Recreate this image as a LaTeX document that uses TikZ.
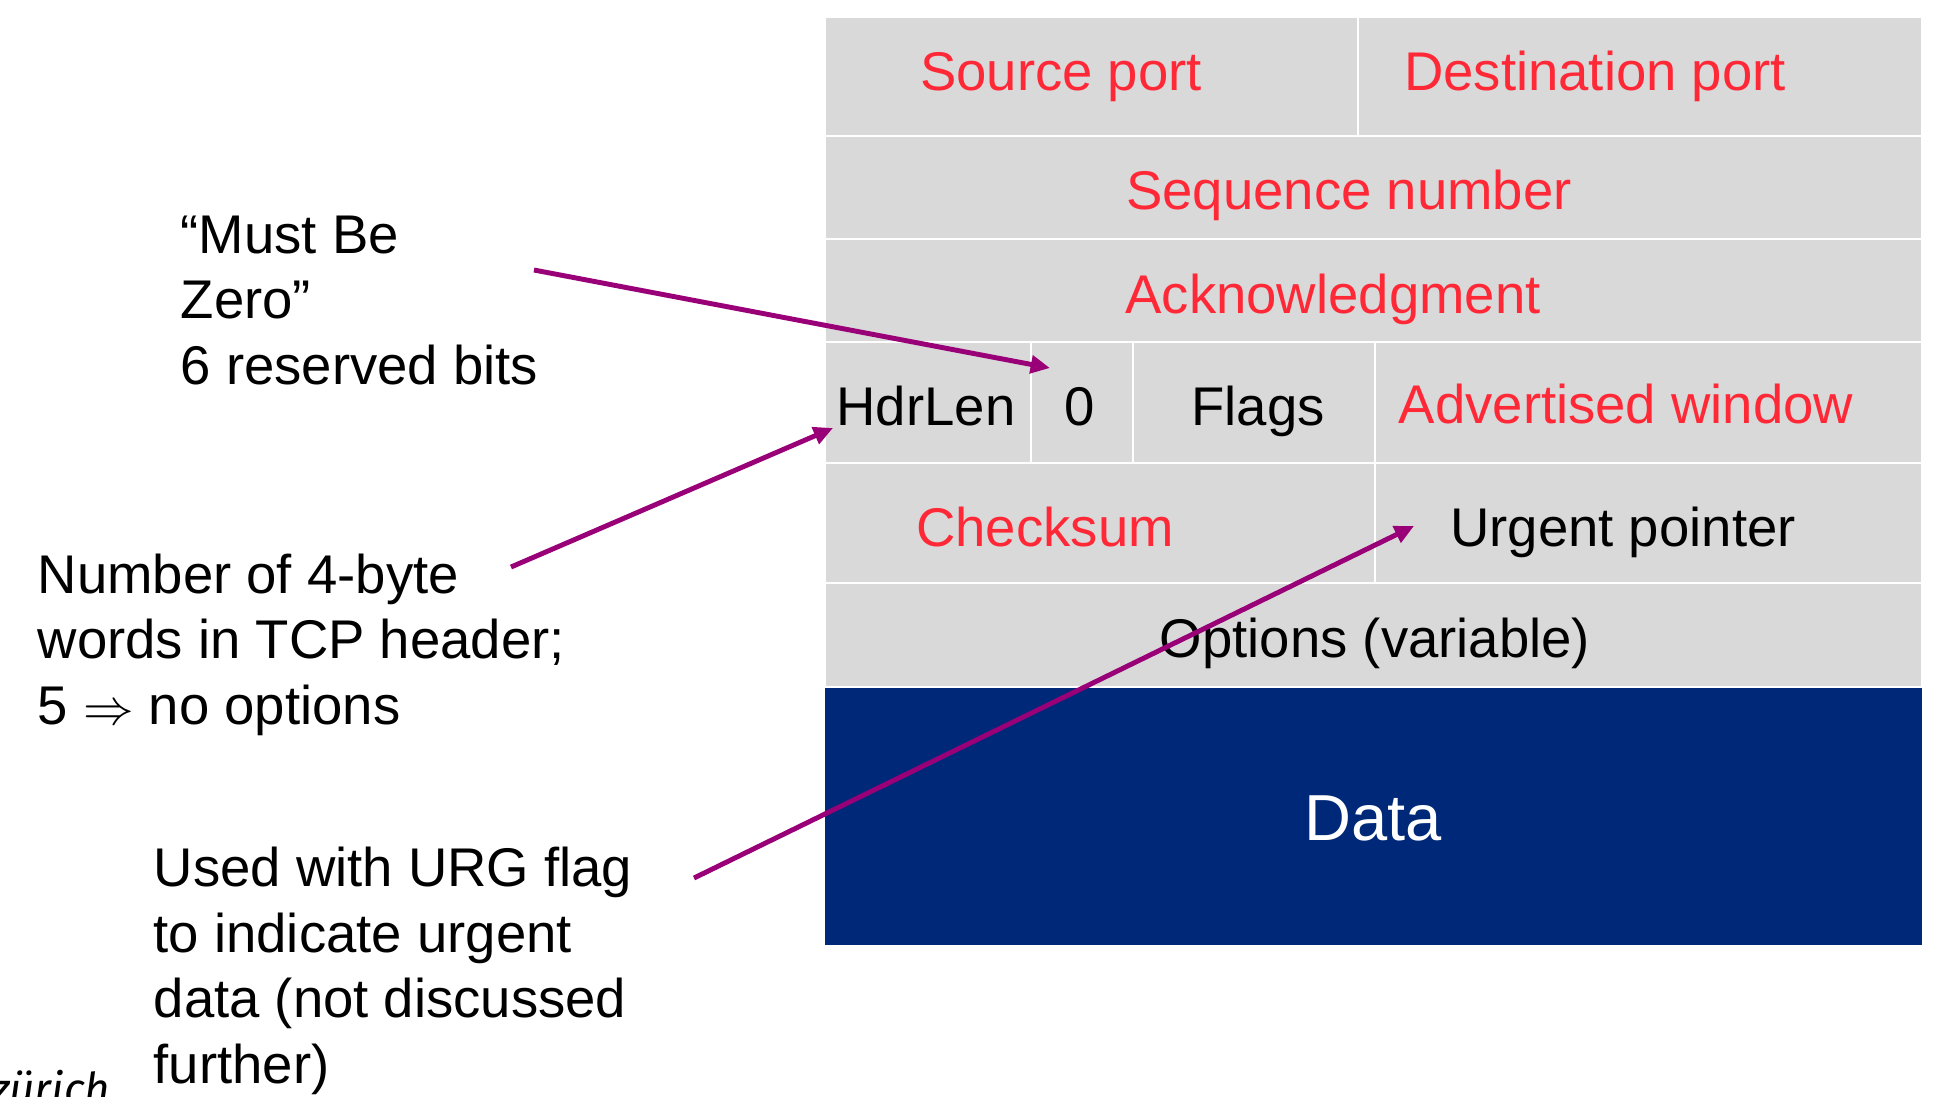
\documentclass[tikz,border=0pt]{standalone}
\usepackage{fontspec}
\setmainfont{Liberation Sans}
\newfontfamily\logofont{Fira Sans}
\usepackage{tikz}
\usetikzlibrary{arrows.meta,positioning}
\definecolor{cellgrey}{HTML}{D9D9D9}
\definecolor{datablue}{RGB}{0,40,120}
\definecolor{fieldred}{RGB}{255,40,55}
\definecolor{arrowpurple}{RGB}{153,0,119}
\tikzstyle{cell}=[fill=cellgrey, draw=white, line width=0.7pt]
\tikzstyle{field}=[anchor=base, inner sep=0pt, font=\fontsize{15.5}{18.6}\selectfont]
\tikzstyle{note}=[anchor=base west, align=left, inner sep=0pt, font=\fontsize{15.5}{18.6}\selectfont]
\tikzstyle{pointer}=[draw=arrowpurple, line width=1.4pt, -{Triangle[length=5.5pt,width=5pt]}]
\newcommand{\field}{\node[field]}
\newcommand{\note}{\node[note]}

\begin{document}
\begin{tikzpicture}[x=0.01cm, y=-0.01cm]
            \useasboundingbox (0,0) rectangle (1936,1096);
            \clip (0,0) rectangle (1936,1096);
            \path[cell] (825,17) rectangle (1358,136);
            \path[cell] (1358,17) rectangle (1922,136);
            \path[cell] (825,136) rectangle (1922,239);
            \path[cell] (825,239) rectangle (1922,342);
            \path[cell] (825,342) rectangle (1031,463);
            \path[cell] (1031,342) rectangle (1133,463);
            \path[cell] (1133,342) rectangle (1375,463);
            \path[cell] (1375,342) rectangle (1922,463);
            \path[cell] (825,463) rectangle (1375,583);
            \path[cell] (1375,463) rectangle (1922,583);
            \path[cell] (825,583) rectangle (1922,687);
            \fill[datablue] (825,687.5) rectangle (1922,945);

            \field (src) at (1061,90) [text=fieldred] {Source port};
            \field (dst) at (1595,90) [text=fieldred] {Destination port};
            \field (seq) at (1349,209) [text=fieldred] {Sequence number};
            \field (ack) at (1333,313) [text=fieldred] {Acknowledgment};
            \field (hdr) at (926,425) {HdrLen};
            \field (zero) at (1080,425) {0};
            \field (flags) at (1258,425) {Flags};
            \field (adv) at (1626,423) [text=fieldred] {Advertised window};
            \field (chk) at (1045,546) [text=fieldred] {Checksum};
            \field (urg) at (1623,546) {Urgent pointer};
            \field (opt) at (1375,657) {Options (variable)};
            \field (data) at (1373,840) [text=white, font=\fontsize{18.5}{22}\selectfont] {Data};

            \note (mbz) at (180,384) {“Must Be\\Zero”\\6 reserved bits};
            \note (words) at (37,724) {Number of 4-byte\\words in TCP header;\\5 $\Rightarrow$ no options};
            \note (urgnote) at (153,1083) {Used with URG flag\\to indicate urgent\\data (not discussed\\further)};
            \node (logo) at (111,1104) [anchor=base east, inner sep=0pt, font=\logofont\itshape\fontsize{12.5}{15}\selectfont] {zürich};

            \coordinate (mbztail) at (534,270);
            \coordinate (zerotip) at (1050,368);
            \coordinate (wordstail) at (511,567);
            \coordinate (hdrtip) at (833,428);
            \coordinate (urgtail) at (694,878);
            \coordinate (urgtip) at (1414,526);
            \path
                (mbztail) edge[pointer] (zerotip)
                (wordstail) edge[pointer] (hdrtip)
                (urgtail) edge[pointer] (urgtip)
            ;
        \end{tikzpicture}
\end{document}
